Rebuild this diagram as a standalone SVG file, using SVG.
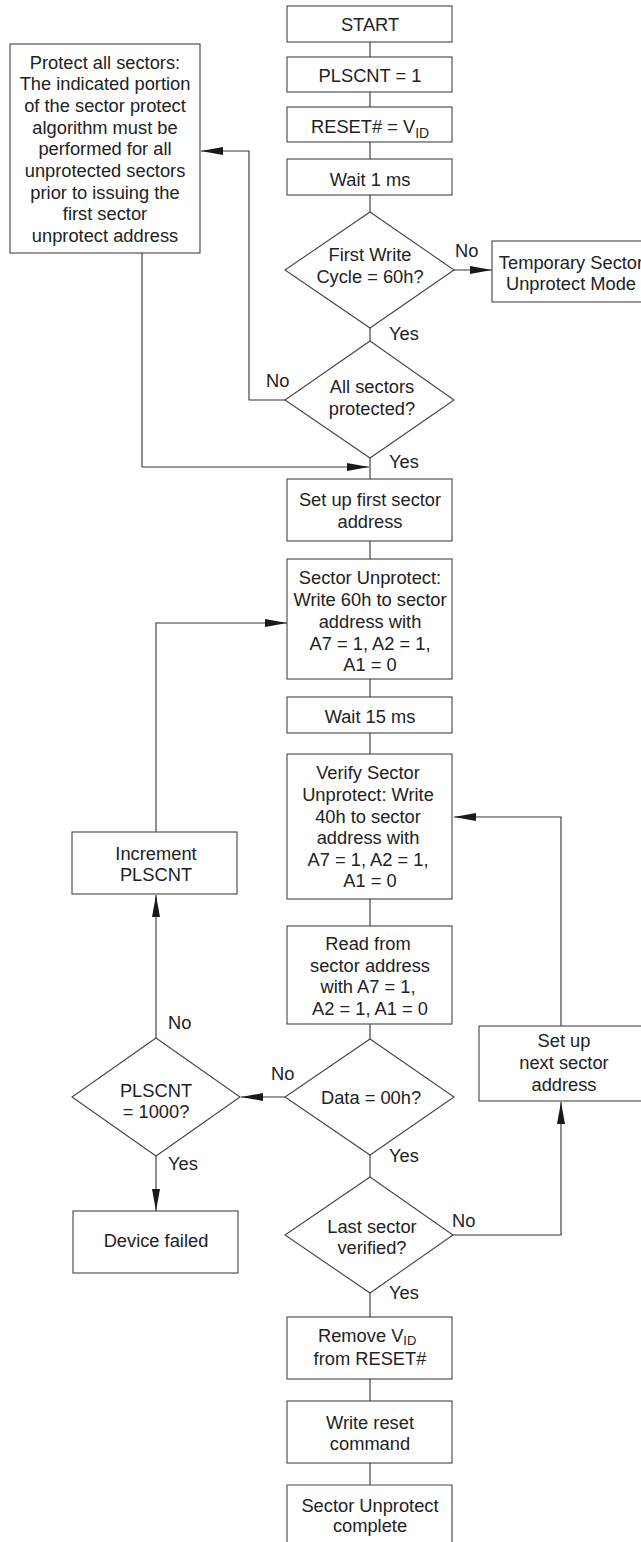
<svg xmlns="http://www.w3.org/2000/svg" width="641" height="1542" viewBox="0 0 641 1542">
<defs>
<marker id="ah" markerUnits="userSpaceOnUse" markerWidth="22" markerHeight="9" refX="22" refY="4" orient="auto">
<path d="M0,0 L22,4 L0,8 z" fill="#1a1a1a"/>
</marker>
<style>
.b{fill:#fff;stroke:#444;stroke-width:1.1}
.c{fill:none;stroke:#333;stroke-width:1.1}
.a{fill:none;stroke:#333;stroke-width:1.1;marker-end:url(#ah)}
text{font-family:"Liberation Sans",Arial,Helvetica,sans-serif;font-size:18.3px;fill:#222}
.m{text-anchor:middle}
.s{font-size:14px}
.t{font-size:13px}
</style>
</defs>
<rect width="641" height="1542" fill="#fff"/>

<g id="connectors">
<line class="c" x1="370" y1="42" x2="370" y2="57"/>
<line class="c" x1="370" y1="92" x2="370" y2="107"/>
<line class="c" x1="370" y1="142" x2="370" y2="159"/>
<line class="c" x1="370" y1="195" x2="370" y2="212"/>
<line class="a" x1="454" y1="270" x2="492" y2="270"/>
<line class="c" x1="370" y1="328" x2="370" y2="341"/>
<polyline class="a" points="285,400 249,400 249,151 201,151"/>
<polyline class="a" points="142,253 142,467 369,467"/>
<line class="c" x1="370" y1="458" x2="370" y2="479"/>
<line class="c" x1="370" y1="541" x2="370" y2="559"/>
<line class="c" x1="370" y1="679" x2="370" y2="697"/>
<line class="c" x1="370" y1="733" x2="370" y2="754"/>
<line class="c" x1="370" y1="899" x2="370" y2="926"/>
<line class="c" x1="370" y1="1024" x2="370" y2="1039"/>
<line class="a" x1="285" y1="1097" x2="241" y2="1097"/>
<line class="c" x1="370" y1="1155" x2="370" y2="1177"/>
<polyline class="a" points="453,1235 561,1235 561,1102"/>
<polyline class="a" points="561,1026 561,817 454,817"/>
<line class="a" x1="156" y1="1156" x2="156" y2="1211"/>
<line class="a" x1="156" y1="1038" x2="156" y2="895"/>
<polyline class="a" points="156,832 156,623 287,623"/>
<line class="c" x1="370" y1="1293" x2="370" y2="1317"/>
<line class="c" x1="370" y1="1379" x2="370" y2="1401"/>
<line class="c" x1="370" y1="1463" x2="370" y2="1485"/>
</g>

<g id="labels">
<text x="455" y="256.5">No</text>
<text x="389" y="339.5">Yes</text>
<text x="266" y="387">No</text>
<text x="389" y="468">Yes</text>
<text x="168" y="1029">No</text>
<text x="271" y="1080">No</text>
<text x="389" y="1161.5">Yes</text>
<text x="168" y="1169.5">Yes</text>
<text x="452" y="1226.5">No</text>
<text x="389" y="1299">Yes</text>
</g>

<g id="start">
<rect class="b" x="287" y="6" width="165" height="36"/>
<text class="m" x="370" y="30.5">START</text>
</g>
<g id="plscnt1">
<rect class="b" x="287" y="57" width="165" height="35"/>
<text class="m" x="370" y="82">PLSCNT = 1</text>
</g>
<g id="reset">
<rect class="b" x="287" y="107" width="165" height="35"/>
<text x="311" y="132.5">RESET# = V<tspan class="s" dy="5">ID</tspan></text>
</g>
<g id="wait1">
<rect class="b" x="287" y="159" width="165" height="36"/>
<text class="m" x="370" y="186">Wait 1 ms</text>
</g>
<g id="firstwrite">
<polygon class="b" points="370,212 454,270 370,328 285,270"/>
<text class="m" x="370" y="260.5">First Write</text>
<text class="m" x="370" y="282.5">Cycle = 60h?</text>
</g>
<g id="temporary">
<rect class="b" x="492" y="241" width="160" height="61"/>
<text class="m" x="571" y="268.5">Temporary Sector</text>
<text class="m" x="571" y="290">Unprotect Mode</text>
</g>
<g id="protectall">
<rect class="b" x="10" y="44" width="190" height="209"/>
<text class="m" x="105" y="68.5">Protect all sectors:</text>
<text class="m" x="105" y="90.2">The indicated portion</text>
<text class="m" x="105" y="111.9">of the sector protect</text>
<text class="m" x="105" y="133.6">algorithm must be</text>
<text class="m" x="105" y="155.3">performed for all</text>
<text class="m" x="105" y="177">unprotected sectors</text>
<text class="m" x="105" y="198.7">prior to issuing the</text>
<text class="m" x="105" y="220.4">first sector</text>
<text class="m" x="105" y="242.1">unprotect address</text>
</g>
<g id="allsectors">
<polygon class="b" points="370,341 454,400 370,458 285,400"/>
<text class="m" x="372" y="392.5">All sectors</text>
<text class="m" x="372" y="414.5">protected?</text>
</g>
<g id="setupfirst">
<rect class="b" x="287" y="479" width="165" height="62"/>
<text class="m" x="370" y="505.5">Set up first sector</text>
<text class="m" x="370" y="527.5">address</text>
</g>
<g id="unprotect">
<rect class="b" x="287" y="559" width="165" height="120"/>
<text class="m" x="370" y="584">Sector Unprotect:</text>
<text class="m" x="370" y="606">Write 60h to sector</text>
<text class="m" x="370" y="627.5">address with</text>
<text class="m" x="370" y="649.5">A7 = 1, A2 = 1,</text>
<text class="m" x="370" y="671">A1 = 0</text>
</g>
<g id="wait15">
<rect class="b" x="287" y="697" width="165" height="36"/>
<text class="m" x="370" y="723">Wait 15 ms</text>
</g>
<g id="verify">
<rect class="b" x="287" y="754" width="165" height="145"/>
<text class="m" x="368" y="779">Verify Sector</text>
<text class="m" x="368" y="800.5">Unprotect: Write</text>
<text class="m" x="368" y="822.5">40h to sector</text>
<text class="m" x="368" y="844">address with</text>
<text class="m" x="368" y="866">A7 = 1, A2 = 1,</text>
<text class="m" x="370" y="887">A1 = 0</text>
</g>
<g id="readfrom">
<rect class="b" x="287" y="926" width="165" height="98"/>
<text class="m" x="368" y="950">Read from</text>
<text class="m" x="370" y="972">sector address</text>
<text class="m" x="368" y="993">with A7 = 1,</text>
<text class="m" x="370" y="1014.5">A2 = 1, A1 = 0</text>
</g>
<g id="data">
<polygon class="b" points="370,1039 454,1097 370,1155 285,1097"/>
<text class="m" x="371" y="1104">Data = 00h?</text>
</g>
<g id="plscnt1000">
<polygon class="b" points="156,1038 240,1097 156,1156 72,1097"/>
<text class="m" x="156" y="1096.5">PLSCNT</text>
<text class="m" x="156" y="1118">= 1000?</text>
</g>
<g id="increment">
<rect class="b" x="72" y="832" width="165" height="62"/>
<text class="m" x="156" y="860">Increment</text>
<text class="m" x="156" y="880.5">PLSCNT</text>
</g>
<g id="devicefailed">
<rect class="b" x="73" y="1211" width="165" height="62"/>
<text class="m" x="156" y="1246.5">Device failed</text>
</g>
<g id="setupnext">
<rect class="b" x="479" y="1026" width="170" height="75"/>
<text class="m" x="564" y="1046.5">Set up</text>
<text class="m" x="564" y="1069">next sector</text>
<text class="m" x="564" y="1090.5">address</text>
</g>
<g id="lastsector">
<polygon class="b" points="370,1177 453,1235 370,1293 285,1235"/>
<text class="m" x="372" y="1232.5">Last sector</text>
<text class="m" x="372" y="1254">verified?</text>
</g>
<g id="removevid">
<rect class="b" x="287" y="1317" width="165" height="62"/>
<text x="318" y="1341.5">Remove V<tspan class="t" dy="3.5">ID</tspan></text>
<text class="m" x="370" y="1365">from RESET#</text>
</g>
<g id="writereset">
<rect class="b" x="287" y="1401" width="165" height="62"/>
<text class="m" x="370" y="1429">Write reset</text>
<text class="m" x="370" y="1450">command</text>
</g>
<g id="complete">
<path class="b" d="M287,1548 L287,1485 L452,1485 L452,1548"/>
<text class="m" x="370" y="1511.5">Sector Unprotect</text>
<text class="m" x="370" y="1532">complete</text>
</g>
</svg>
